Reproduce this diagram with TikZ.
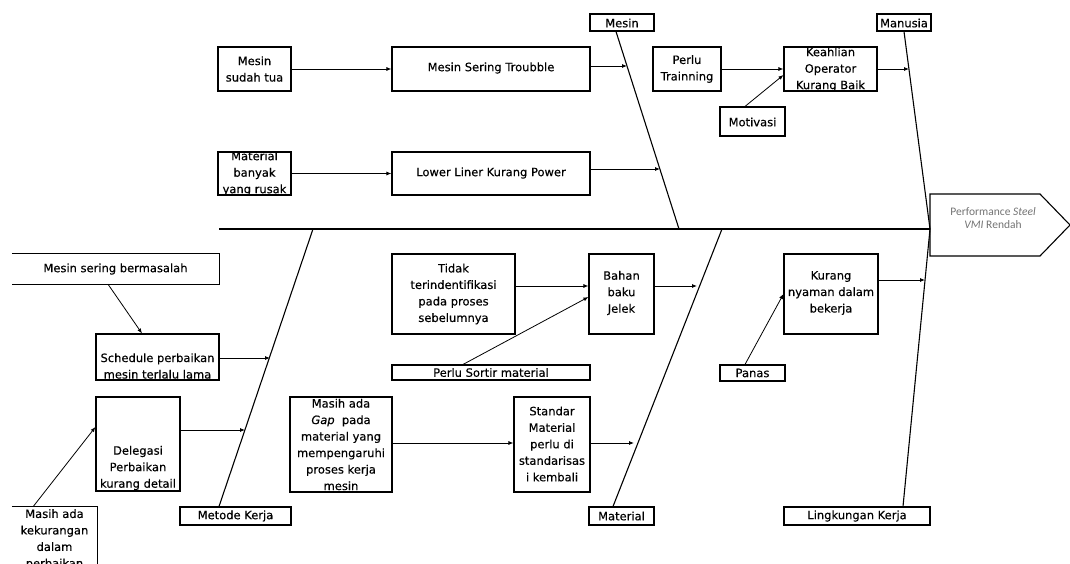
\documentclass[tikz,border=0pt]{standalone}
\usepackage{fontspec}
\setmainfont{DejaVu Sans}
\newfontfamily\boxfont[FakeBold=0.35]{DejaVu Sans}
\newfontfamily\perffont{Carlito}
\usetikzlibrary{arrows.meta}
\begin{document}
\begin{tikzpicture}[x=1pt,y=-1pt,
  box/.style={draw, line width=1.1pt, inner sep=0pt},
  openbox/.style={inner sep=0pt},
  boxline/.style={line width=1.1pt},
  txt/.style={align=center, inner sep=0pt, font=\boxfont\fontsize{11.5}{16.5}\selectfont},
  arr/.style={line width=0.8pt, -{Latex[length=5pt,width=4pt]}},
  bone/.style={line width=1.1pt},
]
\useasboundingbox (0,0) rectangle (1070,564);

% ---------- spine and head ----------
\coordinate (spL) at (219,229);
\coordinate (spR) at (930,229);
\draw[bone] (spL) -- (spR);
\draw[bone] (930,194) -- (1040,194) -- (1070,225) -- (1040,256) -- (930,256) -- cycle;
\node[align=center, inner sep=0pt, text=black!55, font=\perffont\fontsize{11.5}{13.5}\selectfont] (perf) at (993,218)
  {Performance \textit{Steel}\\\textit{VMI} Rendah};

% ---------- category labels ----------
\node[box, minimum width=64, minimum height=17] (mesin) at (622,22.5) {};
\node[txt] (mesin-t) at (622,23) {Mesin};
\node[box, minimum width=54, minimum height=17] (manusia) at (904,22.5) {};
\node[txt] (manusia-t) at (904,23) {Manusia};
\node[box, minimum width=111, minimum height=18] (metode) at (235.5,516) {};
\node[txt] (metode-t) at (235.5,516) {Metode Kerja};
\node[box, minimum width=65, minimum height=18] (material) at (621.5,516) {};
\node[txt] (material-t) at (621.5,516) {Material};
\node[box, minimum width=146, minimum height=18] (ling) at (857,516) {};
\node[txt] (ling-t) at (857,516) {Lingkungan Kerja};

% ---------- bones ----------
\coordinate (mesinB) at (679,229);
\coordinate (metodeT) at (313,229);
\coordinate (materialT) at (722,229);
\draw[bone] ([xshift=-6pt]mesin.south) -- (mesinB);
\draw[bone] (manusia.south) -- (spR);
\draw[bone] ([xshift=-16.5pt]metode.north) -- (metodeT);
\draw[bone] ([xshift=-8.5pt]material.north) -- (materialT);
\draw[bone] ([xshift=46pt]ling.north) -- (spR);

% ---------- Mesin branch ----------
\node[box, minimum width=73, minimum height=44] (mst) at (254.5,69) {};
\node[txt] (mst-t) at (254.5,69) {Mesin\\sudah tua};
\node[box, minimum width=198, minimum height=44] (mstr) at (491,69) {};
\node[txt] (mstr-t) at (491,68) {Mesin Sering Troubble};
\node[box, minimum width=73, minimum height=43] (mrus) at (254.5,173.5) {};
\node[txt] (mrus-t) at (254.5,173.5) {Material\\banyak\\yang rusak};
\node[box, minimum width=198, minimum height=43] (lower) at (491,173.5) {};
\node[txt] (lower-t) at (491,173) {Lower Liner Kurang Power};

\coordinate (mA) at (627,66);
\coordinate (mB) at (660,169);
\draw[arr] (mst.east) -- (mstr.west);
\draw[arr] ([yshift=3pt]mstr.east) -- (mA);
\draw[arr] (mrus.east) -- (lower.west);
\draw[arr] ([yshift=4.5pt]lower.east) -- (mB);

% ---------- Manusia branch ----------
\node[box, minimum width=68, minimum height=44] (train) at (687,69) {};
\node[txt] (train-t) at (687,69) {Perlu\\Trainning};
\node[box, minimum width=93, minimum height=44] (keah) at (830.5,69) {};
\node[txt] (keah-t) at (830.5,69.5) {Keahlian\\Operator\\Kurang Baik};
\node[box, minimum width=65, minimum height=29] (motiv) at (752.5,121.5) {};
\node[txt] (motiv-t) at (752.5,122) {Motivasi};

\coordinate (hA) at (909,69);
\draw[arr] (train.east) -- (keah.west);
\draw[arr] ([xshift=-7.5pt]motiv.north) -- ([yshift=-6pt]keah.west);
\draw[arr] (keah.east) -- (hA);

% ---------- Metode Kerja branch ----------
\node[openbox, minimum width=207, minimum height=30] (mber) at (115.5,269) {};
\draw[boxline] (mber.north west) -- (mber.north east) -- (mber.south east) -- (mber.south west);
\node[txt] (mber-t) at (115.5,269) {Mesin sering bermasalah};
\node[box, minimum width=123, minimum height=46] (sched) at (157.5,357) {};
\node[txt] (sched-t) at (157.5,366) {Schedule perbaikan\\mesin terlalu lama};
\node[box, minimum width=84, minimum height=94] (deleg) at (138,444) {};
\node[txt] (deleg-t) at (138,468) {Delegasi\\Perbaikan\\kurang detail};
\node[openbox, minimum width=85, minimum height=70] (kek) at (54.5,542) {};
\draw[boxline] (kek.north west) -- (kek.north east) -- (kek.south east);
\node[txt] (kek-t) at (54.5,539.5) {Masih ada\\kekurangan\\dalam\\perbaikan};

\coordinate (kA) at (270,358);
\coordinate (kB) at (245,430);
\draw[arr] ([xshift=-7.5pt]mber.south) -- ([xshift=-15.5pt]sched.north);
\draw[arr] ([yshift=-1pt]sched.east) -- (kA);
\draw[arr] ([yshift=14pt]deleg.east) -- (kB);
\draw[arr] ([xshift=-21.5pt]kek.north) -- ([yshift=17pt]deleg.west);

% ---------- Material branch ----------
\node[box, minimum width=123, minimum height=80] (tidak) at (453.5,294) {};
\node[txt] (tidak-t) at (453.5,294) {Tidak\\terindentifikasi\\pada proses\\sebelumnya};
\node[box, minimum width=65, minimum height=80] (bahan) at (621.5,294) {};
\node[txt] (bahan-t) at (621.5,293) {Bahan\\baku\\Jelek};
\node[box, minimum width=198, minimum height=15] (sortir) at (491,372.5) {};
\node[txt] (sortir-t) at (491,372.5) {Perlu Sortir material};
\node[box, minimum width=102, minimum height=95] (gap) at (341,444.5) {};
\node[txt] (gap-t) at (341,444.5) {Masih ada\\\textit{Gap}\ \ pada\\material yang\\mempengaruhi\\proses kerja\\mesin};
\node[box, minimum width=76, minimum height=95] (stand) at (552,444.5) {};
\node[txt] (stand-t) at (552,444) {Standar\\Material\\perlu di\\standarisas\\i kembali};

\coordinate (tA) at (697,286);
\coordinate (tB) at (634,443);
\draw[arr] ([yshift=8pt]tidak.east) -- ([yshift=8pt]bahan.west);
\draw[arr] ([xshift=-28pt]sortir.north) -- ([yshift=-3pt]bahan.west);
\draw[arr] ([yshift=8pt]bahan.east) -- (tA);
\draw[arr] ([yshift=1.5pt]gap.east) -- ([yshift=1.5pt]stand.west);
\draw[arr] ([yshift=1.5pt]stand.east) -- (tB);

% ---------- Lingkungan Kerja branch ----------
\node[box, minimum width=94, minimum height=80] (kny) at (831,294) {};
\node[txt] (kny-t) at (831,293) {Kurang\\nyaman dalam\\bekerja};
\node[box, minimum width=65, minimum height=16] (panas) at (752.5,373) {};
\node[txt] (panas-t) at (752.5,373) {Panas};

\coordinate (lA) at (925,280);
\draw[arr] ([yshift=14pt]kny.east) -- (lA);
\draw[arr] ([xshift=-7.5pt]panas.north) -- (kny.west);
\end{tikzpicture}
\end{document}
